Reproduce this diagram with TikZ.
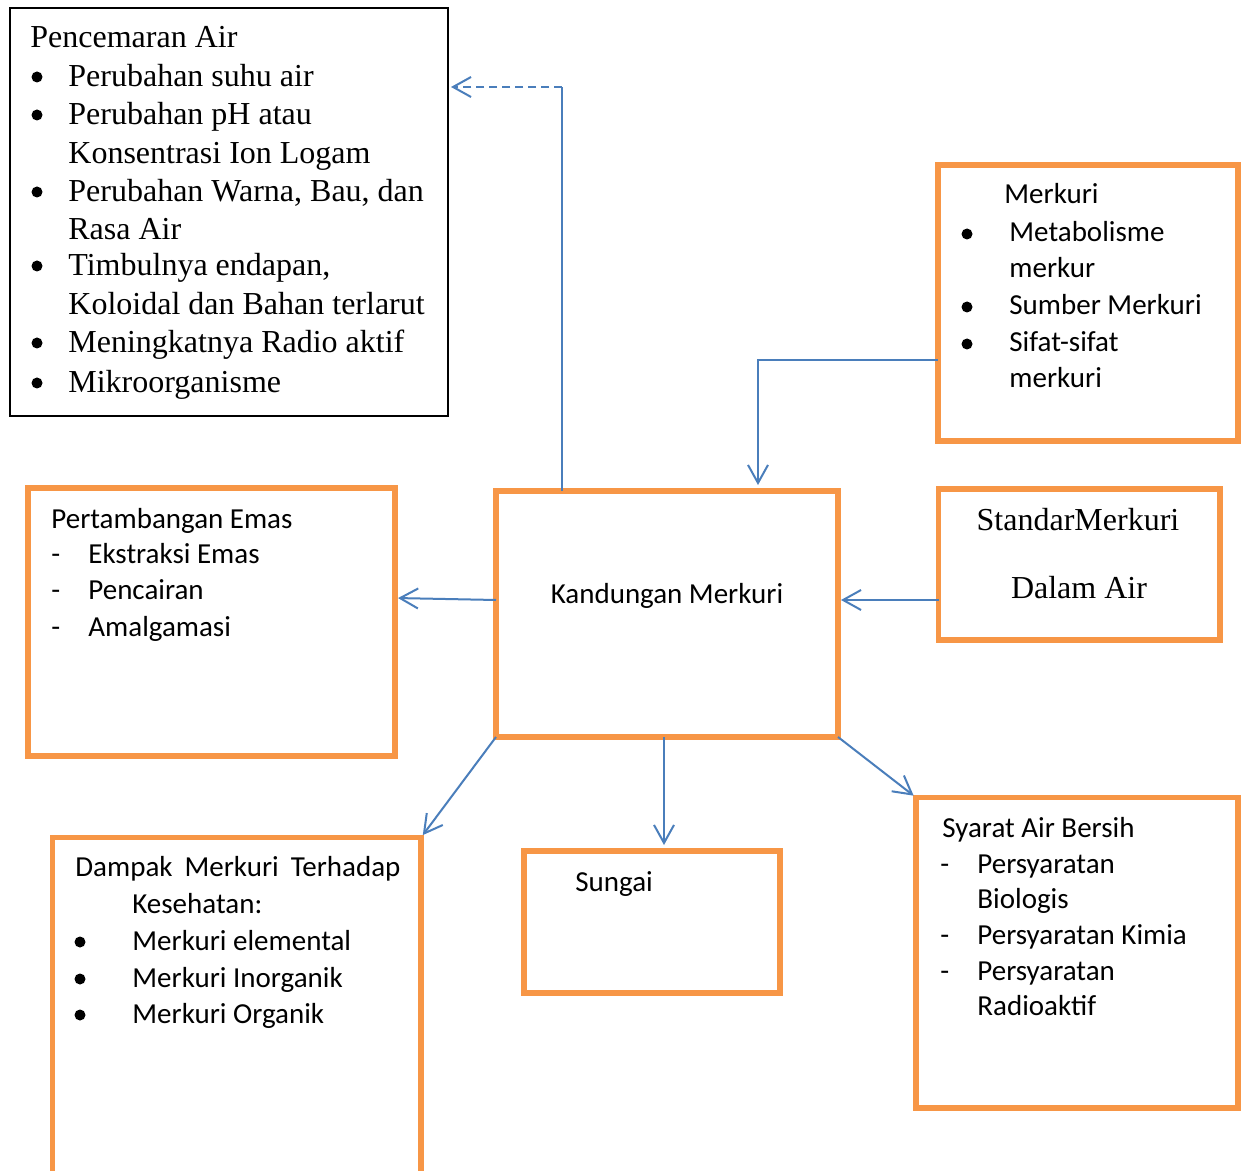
\documentclass[tikz,border=0pt]{standalone}
\usepackage{fontspec}
\setmainfont{Liberation Serif}
\newfontfamily\calibri{Carlito}
\usetikzlibrary{arrows.meta}
\definecolor{oranye}{HTML}{F79646}
\definecolor{biru}{HTML}{4A7EBB}

\begin{document}
\begin{tikzpicture}
[x=0.5pt,y=-0.5pt,>={Straight Barb[length=9pt,width=10pt]},
 kotak/.style={draw=oranye,line width=2.75pt,inner sep=0pt,outer sep=0pt},
 panah/.style={->,draw=biru,line width=1pt,shorten >=1.5pt},
 sans/.style={anchor=base west,inner sep=0pt,font=\calibri\fontsize{14.5}{17}\selectfont},
 serif/.style={anchor=base west,inner sep=0pt,font=\fontsize{16}{19}\selectfont},
 titik/.style={circle,fill,inner sep=0pt,minimum size=5.5pt}]
\useasboundingbox (0,0) rectangle (1247,1171);
\clip (0,0) rectangle (1247,1171);
\fill[white] (0,0) rectangle (1247,1171);

\node[draw,line width=0.75pt,inner sep=0pt,outer sep=0pt,minimum width=219pt,minimum height=204pt] (pencemaran) at (229,212) {};
\node[kotak,minimum width=150pt,minimum height=138pt] (merkuri) at (1088,303) {};
\node[kotak,minimum width=183.5pt,minimum height=134pt] (tambang) at (211.5,622) {};
\node[kotak,minimum width=171pt,minimum height=123pt] (kandungan) at (667,614) {};
\node[kotak,minimum width=140.75pt,minimum height=75.5pt] (standar) at (1079.25,564.5) {};
\node[kotak,minimum width=184.25pt,minimum height=192.5pt] (dampak) at (236.75,1030) {};
\node[kotak,minimum width=128pt,minimum height=71pt] (sungai) at (652,922) {};
\node[kotak,minimum width=161pt,minimum height=155.25pt] (syarat) at (1077,952.75) {};

\node[serif] (pa0) at (30,48) {Pencemaran Air};
\foreach \y/\isi [count=\i] in {87/Perubahan suhu air,125/Perubahan pH atau,164/Konsentrasi Ion Logam,{202/Perubahan Warna, Bau, dan},240/Rasa Air,{276/Timbulnya endapan,},315/Koloidal dan Bahan terlarut,353/Meningkatnya Radio aktif,393/Mikroorganisme}
  \node[serif] (pa\i) at (68,\y) {\isi};
\foreach \y [count=\i] in {87,125,202,276,353,393}
  \node[titik] (pb\i) at (37,\y-10) {};

\node[sans] (mk0) at (1004,204) {Merkuri};
\foreach \y/\isi [count=\i] in {242/Metabolisme,278/merkur,315/Sumber Merkuri,352/Sifat-sifat,388/merkuri}
  \node[sans] (mk\i) at (1009,\y) {\isi};
\foreach \y [count=\i] in {242,315,352}
  \node[titik] (mb\i) at (967,\y-8) {};

\node[sans] (te0) at (51,528) {Pertambangan Emas};
\foreach \y/\isi [count=\i] in {563/Ekstraksi Emas,599/Pencairan,636/Amalgamasi}{
  \node[sans] (tm\i) at (51,\y) {-};
  \node[sans] (te\i) at (88,\y) {\isi};
}

\node[sans,anchor=base] (km) at (667,603) {Kandungan Merkuri};

\node[serif,anchor=base] (sm1) at (1078,530) {StandarMerkuri};
\node[serif,anchor=base] (sm2) at (1079,598) {Dalam Air};

\node[sans] (dk0) at (75,876) {\makebox[162.5pt][s]{Dampak Merkuri Terhadap}};
\node[sans] (dk1) at (132,913) {Kesehatan:};
\foreach \y/\isi [count=\i] in {950/Merkuri elemental,987/Merkuri Inorganik,1023/Merkuri Organik}{
  \node[titik] (db\i) at (80,\y-8) {};
  \node[sans] (dt\i) at (132,\y) {\isi};
}

\node[sans] (sg) at (575,891) {Sungai};

\node[sans] (sy0) at (942,837) {Syarat Air Bersih};
\foreach \y/\isi [count=\i] in {873/Persyaratan,908/Biologis,944/Persyaratan Kimia,980/Persyaratan,1015/Radioaktif}
  \node[sans] (sy\i) at (977,\y) {\isi};
\foreach \y [count=\i] in {873,944,980}
  \node[sans] (sd\i) at (940,\y) {-};

\coordinate (belok) at (562,87);
\draw[biru,line width=1pt] (kandungan.north -| belok) -- (belok);
\draw[panah,dash pattern=on 4pt off 2.5pt] (belok) -- (pencemaran.east |- belok);
\coordinate (siku) at (758,360);
\draw[panah,shorten >=3pt] (merkuri.west |- siku) -- (siku) -- (siku |- kandungan.north);
\draw[panah] ([yshift=7pt]kandungan.west) -- ([yshift=12pt]tambang.east);
\draw[panah] ([yshift=-17.75pt]standar.west) -- ([yshift=7pt]kandungan.east);
\draw[panah] (kandungan.south west) -- (dampak.north east);
\draw[panah,shorten >=3pt] ([xshift=-1.5pt]kandungan.south) -- ([xshift=-1.5pt]kandungan.south |- sungai.north);
\draw[panah] (kandungan.south east) -- (syarat.north west);
\end{tikzpicture}
\end{document}
